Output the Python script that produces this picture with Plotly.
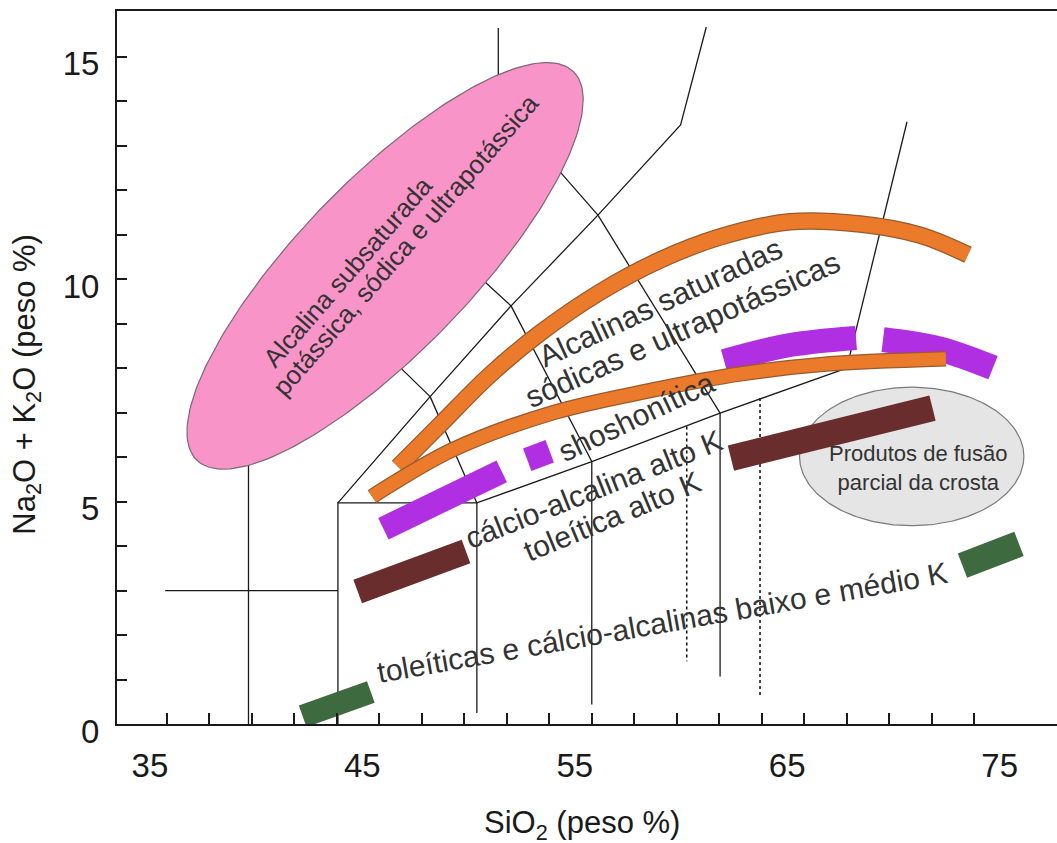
import numpy as np
import plotly.graph_objects as go

FONT = "Liberation Sans, Arial, sans-serif"
INK = "#1a1a1a"
LABEL_INK = "#333333"

# ---------------- axes ----------------
x_tick_vals = [35, 45, 55, 65, 75]
x_minor_vals = list(range(35, 75, 2))
y_tick_vals = [0, 5, 10, 15]
y_minor_vals = list(range(0, 16))
x_range = [32.65, 76.90]
y_range = [0, 16.03]

# ---------------- TAS field boundaries (SiO2 wt%, Na2O+K2O wt%) ----------------
solid_lines = [
    ([38.84, 38.84], [0.0, 7.0]),
    ([34.92, 43.05], [3.0, 3.0]),
    ([43.05, 43.05, 49.59, 55.0, 61.04, 67.0], [0.0, 4.97, 4.97, 5.90, 6.99, 8.0]),
    ([49.59, 49.59], [4.97, 0.25]),
    ([55.0, 55.0], [5.90, 0.44]),
    ([61.04, 61.04], [6.99, 1.07]),
    ([43.05, 47.39, 51.2, 55.29, 59.18, 60.39], [4.97, 7.36, 9.4, 11.44, 13.47, 15.67]),
    ([47.39, 49.59], [7.36, 4.97]),
    ([38.84, 43.0, 47.39], [7.0, 9.4, 7.36]),
    ([43.0, 46.4, 51.2], [9.4, 11.5, 9.4]),
    ([46.4, 50.6, 55.29], [11.5, 14.0, 11.44]),
    ([50.6, 50.6], [14.0, 15.65]),
    ([38.84, 50.6], [7.0, 14.0]),
    ([51.2, 55.0], [9.4, 5.90]),
    ([55.29, 61.04], [11.44, 6.99]),
    ([67.0, 69.84], [8.0, 13.54]),
]
dotted_lines = [
    ([59.47, 59.47], [6.69, 1.41]),
    ([62.92, 62.92], [7.33, 0.62]),
]

# ---------------- fields ----------------
# ellipses given by centre, end of major semi-axis, end of minor semi-axis
pink_center = (45.27, 10.30)
pink_major = (54.13, 14.67)
pink_minor = (42.36, 11.64)

grey_center = (70.06, 6.015)
grey_major = (75.34, 6.015)
grey_minor = (70.06, 7.572)

# orange trends
orange_upper_x = [45.88, 47.86, 50.21, 52.57, 55.39, 58.21, 61.04, 64.33, 67.63, 70.45, 72.71]
orange_upper_y = [5.78, 6.73, 7.85, 8.79, 9.71, 10.43, 10.95, 11.29, 11.24, 10.99, 10.55]
orange_lower_x = [44.66, 45.37, 48.47, 53.18, 57.89, 61.98, 65.74, 71.67]
orange_lower_y = [5.11, 5.33, 6.17, 7.00, 7.51, 7.87, 8.08, 8.21]

# purple (shoshonitic) bars
purple_bars = [
    ([45.19, 50.76], [4.39, 5.68], 24),
    ([51.96, 53.02], [5.94, 6.13], 24),
]
purple_arcs = [
    ([61.23, 64.33, 67.44], [8.16, 8.52, 8.68], 24),
    ([68.71, 71.39, 73.89], [8.64, 8.43, 8.01], 25),
]
# brown (high-K) bars
brown_bars = [
    ([43.98, 49.08], [2.98, 3.88], 25),
    ([61.55, 71.04], [5.98, 7.10], 26),
]
# green (low/medium-K) bars
green_bars = [
    ([41.39, 44.60], [0.175, 0.72], 23),
    ([72.45, 75.11], [3.56, 4.05], 26),
]

# ---------------- labels ----------------
labels = [
    ("Alcalina subsaturada", 43.51, 10.16, -49, 26),
    ("potássica, sódica e ultrapotássica", 46.24, 10.77, -49, 26),
    ("Alcalinas saturadas", 58.21, 9.49, -25, 30.5),
    ("sódicas e ultrapotássicas", 59.27, 8.88, -24, 30.5),
    ("shoshonítica", 57.12, 6.91, -25.5, 30),
    ("cálcio-alcalina alto K", 55.06, 5.27, -21.6, 30),
    ("toleítica alto K", 55.94, 4.67, -22.5, 30),
    ("toleíticas e cálcio-alcalinas baixo e médio K", 58.31, 2.28, -10, 30),
    ("Produtos de fusão<br>parcial da crosta", 70.37, 5.75, 0, 22),
]


def joined(segments):
    xs, ys = [], []
    for sx, sy in segments:
        xs += list(sx) + [None]
        ys += list(sy) + [None]
    return xs, ys


def ellipse(center, major, minor, n=240):
    t = np.linspace(0, 2 * np.pi, n)
    cx, cy = center
    x = cx + (major[0] - cx) * np.cos(t) + (minor[0] - cx) * np.sin(t)
    y = cy + (major[1] - cy) * np.cos(t) + (minor[1] - cy) * np.sin(t)
    return x, y


fig = go.Figure()

sx, sy = joined(solid_lines)
fig.add_trace(go.Scatter(x=sx, y=sy, mode="lines",
                         line=dict(color=INK, width=1.3), hoverinfo="skip"))
dx, dy = joined(dotted_lines)
fig.add_trace(go.Scatter(x=dx, y=dy, mode="lines",
                         line=dict(color=INK, width=1.6, dash="dot"), hoverinfo="skip"))

ex, ey = ellipse(pink_center, pink_major, pink_minor)
fig.add_trace(go.Scatter(x=ex, y=ey, mode="lines", fill="toself",
                         fillcolor="#F994C8", line=dict(color="#7d6774", width=1.2),
                         hoverinfo="skip"))
gx, gy = ellipse(grey_center, grey_major, grey_minor)
fig.add_trace(go.Scatter(x=gx, y=gy, mode="lines", fill="toself",
                         fillcolor="#E5E5E5", line=dict(color="#7a7a7a", width=1.2),
                         hoverinfo="skip"))


def band(x, y, width, color, shape="linear"):
    fig.add_trace(go.Scatter(x=x, y=y, mode="lines",
                             line=dict(color=color, width=width, shape=shape),
                             hoverinfo="skip"))


for bx, by, w in purple_arcs:
    band(bx, by, w, "#B12FE3", "spline")

for ox, oy, w in [(orange_upper_x, orange_upper_y, 15), (orange_lower_x, orange_lower_y, 13)]:
    band(ox, oy, w + 2.5, "#9A5A2C", "spline")
    band(ox, oy, w, "#EB7A2B", "spline")

for bx, by, w in purple_bars:
    band(bx, by, w, "#B12FE3")
for bx, by, w in brown_bars:
    band(bx, by, w, "#6A2D2D")
for bx, by, w in green_bars:
    band(bx, by, w, "#3E6A40")

annotations = []
for text, lx, ly, ang, size in labels:
    annotations.append(dict(x=lx, y=ly, xref="x", yref="y", text=text, showarrow=False,
                            textangle=ang, font=dict(family=FONT, size=size, color=LABEL_INK),
                            xanchor="center", yanchor="middle", align="center"))

annotations.append(dict(x=0.4943, y=-0.142, xref="paper", yref="paper",
                        text="SiO<sub>2</sub> (peso %)", showarrow=False,
                        font=dict(family=FONT, size=31, color=INK),
                        xanchor="center", yanchor="middle"))
annotations.append(dict(x=-0.0954, y=0.4763, xref="paper", yref="paper",
                        text="Na<sub>2</sub>O + K<sub>2</sub>O (peso %)", showarrow=False,
                        textangle=-90, font=dict(family=FONT, size=31, color=INK),
                        xanchor="center", yanchor="middle"))

fig.update_layout(
    width=1057, height=843, autosize=False,
    margin=dict(l=116.7, r=0, t=10.7, b=118.5, pad=0),
    paper_bgcolor="white", plot_bgcolor="white",
    showlegend=False,
    annotations=annotations,
)
fig.update_xaxes(
    range=x_range, showgrid=False, zeroline=False,
    showline=True, linecolor=INK, linewidth=2, mirror=True,
    tickmode="array", tickvals=x_tick_vals, ticktext=[str(v) for v in x_tick_vals],
    ticks="", ticklabelshift=-17, ticklabelstandoff=11,
    tickfont=dict(family=FONT, size=33, color=INK),
    minor=dict(tickmode="array", tickvals=x_minor_vals, ticks="inside",
               ticklen=11, tickwidth=1.6, tickcolor=INK),
)
fig.update_yaxes(
    range=y_range, showgrid=False, zeroline=False,
    showline=True, linecolor=INK, linewidth=2, mirror=False,
    tickmode="array", tickvals=y_tick_vals, ticktext=[str(v) for v in y_tick_vals],
    ticks="inside", ticklen=10, tickwidth=1.6, tickcolor=INK,
    ticklabelshift=7, ticklabelstandoff=9,
    tickfont=dict(family=FONT, size=33, color=INK),
    minor=dict(tickmode="array", tickvals=y_minor_vals, ticks="inside",
               ticklen=10, tickwidth=1.6, tickcolor=INK),
)

fig.write_html("out.html")
